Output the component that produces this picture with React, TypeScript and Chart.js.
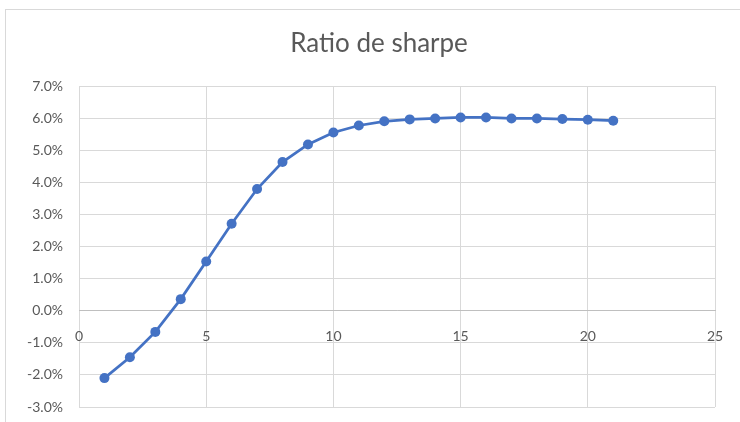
import React, { useEffect, useRef } from "react";
import { Chart, registerables } from "chart.js";

Chart.register(...registerables);

// Holding period (x) and Sharpe ratio in percent (y)
const periods: number[] = [1, 2, 3, 4, 5, 6, 7, 8, 9, 10, 11, 12, 13, 14, 15, 16, 17, 18, 19, 20, 21];
const sharpe: number[] = [
  -2.1, -1.45, -0.66, 0.36, 1.53, 2.71, 3.79, 4.63, 5.18, 5.55, 5.77,
  5.9, 5.96, 5.99, 6.02, 6.02, 5.99, 5.99, 5.97, 5.95, 5.92,
];
const xTicks: number[] = [0, 5, 10, 15, 20, 25];
const yTicks: number[] = [-3, -2, -1, 0, 1, 2, 3, 4, 5, 6, 7];
const chartTitle = "Ratio de sharpe";

const FONT = "Lato, 'Noto Sans', sans-serif";
const TEXT = "#595959";
const GRID = "#d9d9d9";
const BLUE = "#4472C4";

// White background with the light outer frame of the chart
const framePlugin = {
  id: "frame",
  beforeDraw(chart: Chart) {
    const { ctx, width, height } = chart;
    ctx.save();
    ctx.fillStyle = "#ffffff";
    ctx.fillRect(0, 0, width, height);
    ctx.strokeStyle = GRID;
    ctx.lineWidth = 1;
    ctx.strokeRect(5.5, 9.5, width + 10, height + 10);
    ctx.restore();
  },
};

// Title centred over the whole chart frame (frame starts at x=5, runs off the right edge)
const titlePlugin = {
  id: "frameTitle",
  afterDraw(chart: Chart) {
    const { ctx } = chart;
    ctx.save();
    ctx.fillStyle = TEXT;
    ctx.font = `26px ${FONT}`;
    ctx.textAlign = "center";
    ctx.textBaseline = "alphabetic";
    ctx.fillText(chartTitle, 379, 52);
    ctx.restore();
  },
};

export default function App() {
  const canvasRef = useRef<HTMLCanvasElement | null>(null);

  useEffect(() => {
    if (!canvasRef.current) return;
    const chart = new Chart(canvasRef.current, {
      type: "scatter",
      data: {
        datasets: [
          {
            data: periods.map((p, i) => ({ x: p, y: sharpe[i] })),
            showLine: true,
            borderColor: BLUE,
            backgroundColor: BLUE,
            borderWidth: 2.75,
            pointRadius: 5,
            pointBorderWidth: 0,
            pointBackgroundColor: BLUE,
          },
        ],
      },
      options: {
        animation: false,
        responsive: false,
        devicePixelRatio: 1,
        layout: { padding: { left: 0, right: 25, top: 86, bottom: 15 } },
        plugins: {
          legend: { display: false },
          tooltip: { enabled: false },
          title: { display: false },
        },
        scales: {
          x: {
            type: "linear",
            position: { y: 0 },
            min: 0,
            max: 25,
            afterBuildTicks(scale: any) {
              scale.ticks = xTicks.map((v) => ({ value: v }));
            },
            // the axis crosses at 0%, so it takes no room below the plot
            afterFit(scale: any) {
              scale.height = 0;
              scale.paddingLeft = 0;
              scale.paddingRight = 0;
            },
            grid: { color: GRID, lineWidth: 1, drawTicks: false },
            border: { display: true, color: "#bfbfbf", width: 1 },
            ticks: {
              color: TEXT,
              font: { family: FONT, size: 14 },
              padding: 17,
              maxRotation: 0,
            },
          },
          y: {
            type: "linear",
            min: -3,
            max: 7,
            afterBuildTicks(scale: any) {
              scale.ticks = yTicks.map((v) => ({ value: v }));
            },
            afterFit(scale: any) {
              scale.width = 79;
              scale.paddingTop = 0;
              scale.paddingBottom = 0;
            },
            grid: { color: GRID, lineWidth: 1, drawTicks: false },
            border: { display: false },
            ticks: {
              color: TEXT,
              font: { family: FONT, size: 14 },
              padding: 16,
              callback: (v: any) => Number(v).toFixed(1) + "%",
            },
          },
        },
      },
      plugins: [framePlugin, titlePlugin],
    });
    return () => chart.destroy();
  }, []);

  return (
    <div style={{ position: "fixed", left: 0, top: 0, width: 740, height: 422 }}>
      <canvas ref={canvasRef} width={740} height={422} />
    </div>
  );
}
